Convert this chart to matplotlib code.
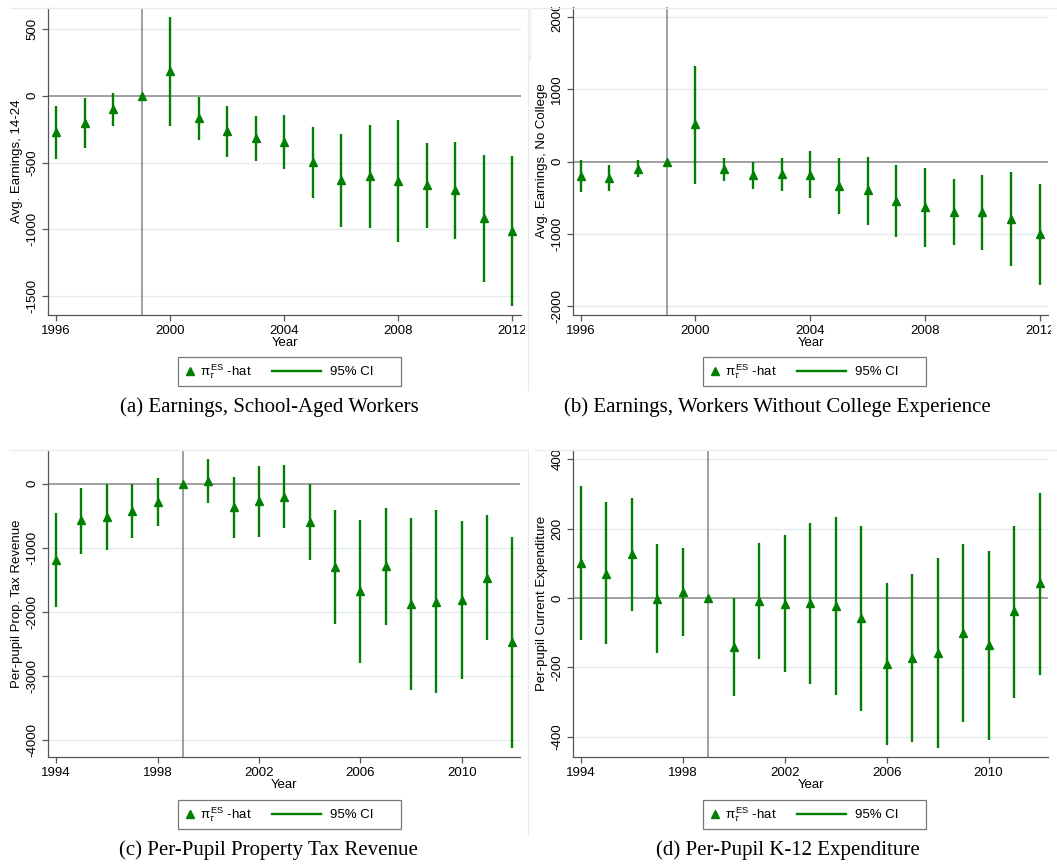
import numpy as np
import matplotlib
matplotlib.use("Agg")
import matplotlib.pyplot as plt
from matplotlib.lines import Line2D
from matplotlib.legend_handler import HandlerLine2D
from matplotlib.transforms import Bbox, TransformedBbox

plt.rcParams['font.family'] = ['Liberation Sans', 'DejaVu Sans']
plt.rcParams['mathtext.fontset'] = 'custom'
plt.rcParams['mathtext.rm'] = 'Liberation Sans'
plt.rcParams['mathtext.it'] = 'Liberation Sans:italic'

# ---- data ----
years_ab = list(range(1996, 2013))
years_cd = list(range(1994, 2013))

# (a) Avg. earnings, 14-24
est_a = [-274, -202, -100, 0, 185, -170, -264, -314, -344, -499, -633, -604, -641, -668, -708, -913, -1010]
lo_a = [-471, -392, -224, 0, -224, -329, -456, -486, -546, -768, -980, -990, -1097, -988, -1075, -1392, -1571]
hi_a = [-77, -17, 22, 0, 586, -12, -77, -150, -145, -234, -289, -219, -185, -357, -349, -441, -454]

# (b) Avg. earnings, no college
est_b = [-199, -226, -97, 0, 513, -97, -185, -176, -180, -333, -397, -545, -624, -697, -697, -794, -1007]
lo_b = [-416, -406, -212, 0, -314, -263, -374, -406, -508, -725, -878, -1049, -1178, -1155, -1219, -1450, -1704]
hi_b = [14, -55, 23, 0, 1321, 51, -5, 51, 148, 51, 60, -46, -88, -249, -185, -148, -309]

# (c) Per-pupil property tax revenue
est_c = [-1190, -566, -520, -426, -286, 0, 47, -364, -275, -203, -592, -1299, -1673, -1288, -1875, -1844, -1818, -1470, -2473]
lo_c = [-1922, -1101, -1039, -852, -655, 0, -307, -852, -831, -696, -1190, -2192, -2800, -2203, -3221, -3273, -3055, -2447, -4130]
hi_c = [-452, -73, 0, -10, 88, 0, 379, 109, 275, 296, 0, -416, -561, -384, -540, -416, -582, -488, -831]

# (d) Per-pupil current expenditure
est_d = [101, 70, 126, -3, 18, 0, -141, -10, -16, -15, -22, -59, -190, -173, -159, -100, -137, -39, 42]
lo_d = [-121, -134, -39, -158, -109, 0, -283, -175, -215, -247, -279, -325, -424, -415, -434, -358, -409, -289, -221]
hi_d = [323, 276, 288, 155, 143, 0, 0, 160, 182, 217, 233, 208, 43, 70, 115, 155, 136, 207, 304]

ylabels = ['Avg. Earnings, 14-24', 'Avg. Earnings, No College',
           'Per-pupil Prop. Tax Revenue', 'Per-pupil Current Expenditure']
captions = ['(a) Earnings, School-Aged Workers',
            '(b) Earnings, Workers Without College Experience',
            '(c) Per-Pupil Property Tax Revenue',
            '(d) Per-Pupil K-12 Expenditure']
yticks_a = [-1500, -1000, -500, 0, 500]
yticks_b = [-2000, -1000, 0, 1000, 2000]
yticks_c = [-4000, -3000, -2000, -1000, 0]
yticks_d = [-400, -200, 0, 200, 400]
xticks_ab = [1996, 2000, 2004, 2008, 2012]
xticks_cd = [1994, 1998, 2002, 2006, 2010]
leg_labels = ['π$_{\\tau}^{\\,\\mathrm{ES}}$ -hat', '95% CI' + '\u00a0' * 6]

W, H = 1057, 865
GREEN = '#007f00'
GRID = '#e4ecef'
REF = '#858585'
AXC = '#555555'
FS = 9.5

fig = plt.figure(figsize=(W / 100, H / 100), dpi=100)


def fig_box(l, t, r, b):
    return [l / W, 1 - b / H, (r - l) / W, (b - t) / H]


class LongLine(HandlerLine2D):
    def get_xdata(self, legend, xdescent, ydescent, width, height, fontsize):
        x0 = -xdescent
        return np.array([x0 - 29.5, x0 + width - 4.0]), np.array([x0 + width / 2])


def panel(rect, clip, outline, years, est, lo, hi, xlim, ylim, xticks, yticks,
          ylabel, leg_xy, caption, cap_xy):
    ax = fig.add_axes(fig_box(*rect))
    ax.set_xlim(*xlim)
    ax.set_ylim(*ylim)
    for y in yticks:
        if y != 0:
            ax.axhline(y, color=GRID, lw=1.0, zorder=0)
    ax.axhline(0, color=REF, lw=1.1, zorder=1)
    ax.axvline(1999, color=REF, lw=1.1, zorder=1)
    ax.vlines(years, lo, hi, color=GREEN, lw=1.7, zorder=2)
    ax.plot(years, est, ls='none', marker='^', ms=6.3, color=GREEN, zorder=3)

    for s in ['top', 'right']:
        ax.spines[s].set_visible(False)
    for s in ['left', 'bottom']:
        ax.spines[s].set_color(AXC)
        ax.spines[s].set_linewidth(0.9)
    ax.set_xticks(xticks)
    ax.set_xticklabels([str(v) for v in xticks])
    ax.set_yticks(yticks)
    ax.set_yticklabels([str(v) for v in yticks], rotation=90, va='center')
    ax.tick_params(direction='out', length=4, width=0.9, color=AXC,
                   labelsize=FS, pad=3)
    ax.set_xlabel('Year', fontsize=FS, labelpad=0)
    ax.set_ylabel(ylabel, fontsize=FS, labelpad=2)

    l, t, r, b = clip
    cb = TransformedBbox(Bbox([[l / W, 1 - b / H], [r / W, 1 - t / H]]), fig.transFigure)
    for lbl in ax.get_xticklabels() + ax.get_yticklabels():
        lbl.set_clip_box(cb)
        lbl.set_clip_on(True)

    # faint graph-region outline
    xs, ys = outline
    fig.add_artist(Line2D([x / W for x in xs], [1 - y / H for y in ys],
                          color=GRID, lw=0.9, transform=fig.transFigure))

    mk = Line2D([], [], ls='none', marker='^', ms=6, color=GREEN)
    ln = Line2D([], [], color=GREEN, lw=1.7)
    leg = ax.legend([mk, ln], leg_labels, loc='upper left',
                    bbox_to_anchor=(leg_xy[0] / W, 1 - leg_xy[1] / H),
                    bbox_transform=fig.transFigure, ncol=2, frameon=True,
                    fancybox=False, fontsize=FS, handlelength=1.0,
                    handletextpad=0.3, columnspacing=4.6, borderpad=0.4,
                    borderaxespad=0, handler_map={ln: LongLine()})
    leg.get_frame().set_edgecolor(AXC)
    leg.get_frame().set_linewidth(0.9)

    fig.text(cap_xy[0] / W, 1 - cap_xy[1] / H, caption, ha='center', va='center',
             fontsize=15, family=['Liberation Serif', 'DejaVu Serif'])
    return ax


panel((48, 8, 521, 315), (10, 7, 525, 390), ([10, 528, 528], [8, 8, 390]),
      years_ab, est_a, lo_a, hi_a,
      (1995.72, 2012.3), (-1642, 657), xticks_ab, yticks_a, ylabels[0],
      (178, 357), captions[0], (269, 407))
panel((573, 7, 1048, 315), (530, 7, 1051, 390), ([530, 530, 1057], [60, 8, 8]),
      years_ab, est_b, lo_b, hi_b,
      (1995.73, 2012.29), (-2125, 2139), xticks_ab, yticks_b, ylabels[1],
      (703, 357), captions[1], (777, 407))
panel((48, 450, 520, 757), (10, 450, 528, 835), ([10, 528, 528], [450, 450, 835]),
      years_cd, est_c, lo_c, hi_c,
      (1993.68, 2012.3), (-4265, 525), xticks_cd, yticks_c, ylabels[2],
      (178, 800), captions[2], (268, 850))
panel((573, 450, 1048, 757), (535, 450, 1057, 835), ([535, 1057], [450, 450]),
      years_cd, est_d, lo_d, hi_d,
      (1993.7, 2012.33), (-459, 427), xticks_cd, yticks_d, ylabels[3],
      (703, 800), captions[3], (788, 850))

fig.savefig('out.png', dpi=100)
